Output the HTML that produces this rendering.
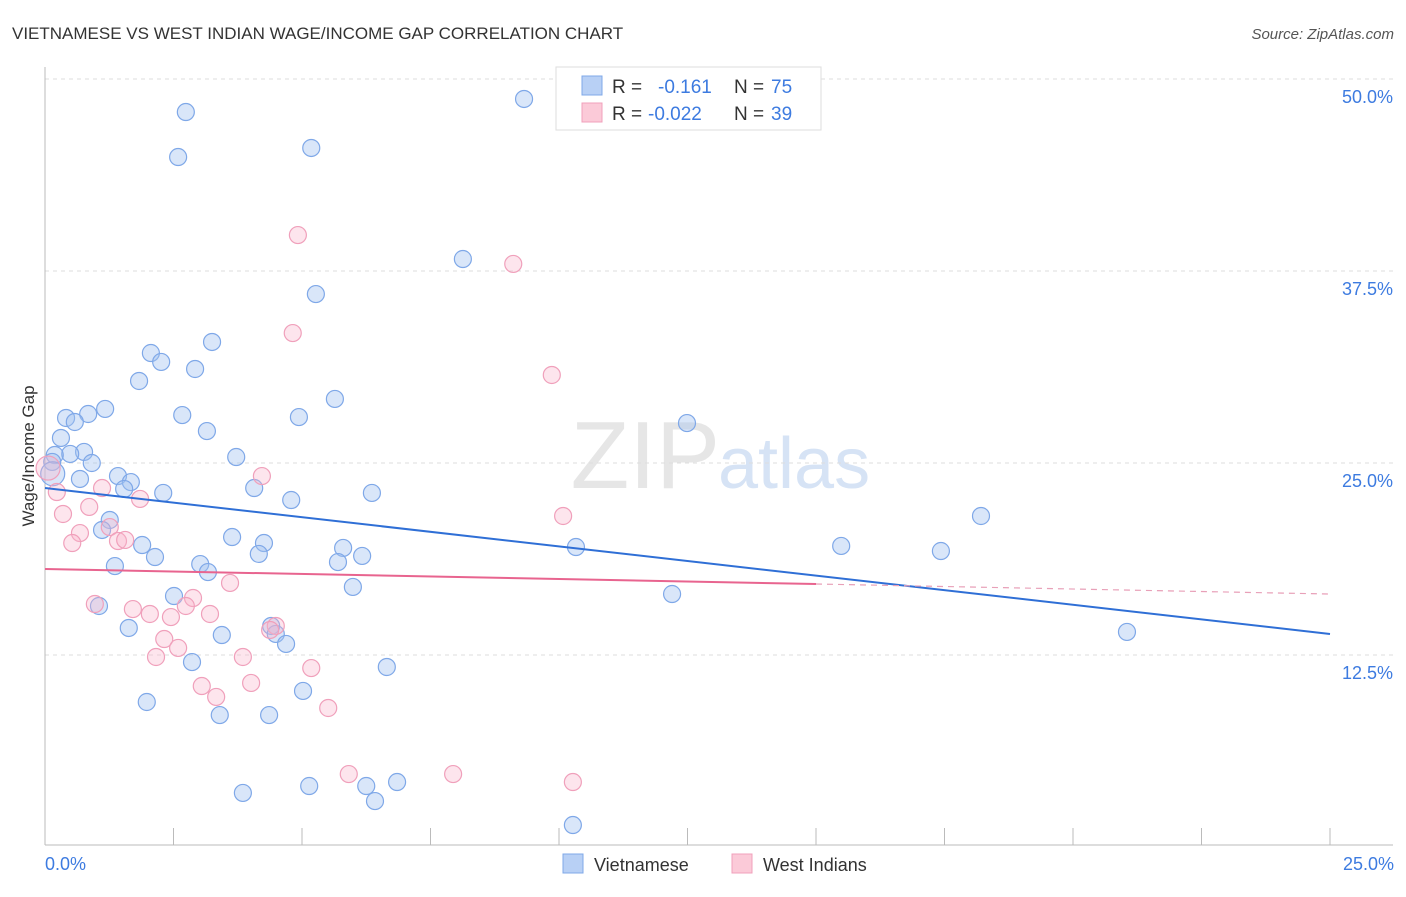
<!DOCTYPE html>
<html><head><meta charset="utf-8">
<style>
body{margin:0;background:#fff;font-family:"Liberation Sans",sans-serif;}
svg text{font-family:"Liberation Sans",sans-serif;}
</style></head>
<body>
<svg id="chart" width="1406" height="892" xmlns="http://www.w3.org/2000/svg">
<text x="12" y="39" font-size="17" fill="#333">VIETNAMESE VS WEST INDIAN WAGE/INCOME GAP CORRELATION CHART</text>
<text x="1394" y="39" font-size="15" fill="#555" font-style="italic" text-anchor="end">Source: ZipAtlas.com</text>
<text x="720" y="488" font-size="96" fill="#e6e6e6" text-anchor="end" font-family="Liberation Serif,serif">ZIP</text>
<text x="718" y="488" font-size="72" fill="#d6e3f5">atlas</text>
<g id="grid"></g>
<g id="axes"></g>
<g id="pts"></g>
<g id="trends"></g>
<text transform="translate(34,456) rotate(-90)" font-size="17" fill="#333" text-anchor="middle">Wage/Income Gap</text>
<text x="45" y="870" font-size="18" fill="#3d7be0">0.0%</text>
<text x="1394" y="870" font-size="18" fill="#3d7be0" text-anchor="end">25.0%</text>
<g>
<rect x="556" y="67" width="265" height="63" fill="#fff" stroke="#ddd"/>
<rect x="582" y="76" width="20" height="19" fill="#b8d0f5" stroke="#7fa8e8"/>
<rect x="582" y="103" width="20" height="19" fill="#fbcad8" stroke="#f0a0bb"/>
<text x="612" y="93" font-size="19" fill="#333">R =</text>
<text x="658" y="93" font-size="19" fill="#3d7be0">-0.161</text>
<text x="734" y="93" font-size="19" fill="#333">N =</text>
<text x="771" y="93" font-size="19" fill="#3d7be0">75</text>
<text x="612" y="120" font-size="19" fill="#333">R =</text>
<text x="648" y="120" font-size="19" fill="#3d7be0">-0.022</text>
<text x="734" y="120" font-size="19" fill="#333">N =</text>
<text x="771" y="120" font-size="19" fill="#3d7be0">39</text>
</g>
<g>
<rect x="563" y="854" width="20" height="19" fill="#b8d0f5" stroke="#7fa8e8"/>
<text x="594" y="871" font-size="18" fill="#333">Vietnamese</text>
<rect x="732" y="854" width="20" height="19" fill="#fbcad8" stroke="#f0a0bb"/>
<text x="763" y="871" font-size="18" fill="#333">West Indians</text>
</g>
</svg>
<script>
const yTicks=[50,37.5,25,12.5];
const yTickLabels=["50.0%","37.5%","25.0%","12.5%"];
const xTicks=[0,2.5,5,7.5,10,12.5,15,17.5,20,22.5,25];
const viX=[2.74,2.59,5.18,9.32,8.13,5.27,3.25,2.06,2.26,2.92,1.83,5.64,1.17,0.84,0.41,0.58,2.67,4.94,12.49,3.15,0.31,0.76,0.49,0.19,0.91,0.14,3.72,0.68,1.42,1.67,1.54,4.07,2.30,6.36,4.79,18.21,1.26,1.11,3.64,4.26,1.89,4.16,10.33,5.80,6.17,15.49,17.43,2.14,5.70,3.02,1.36,3.17,5.99,2.51,12.20,1.05,4.40,1.63,4.49,3.44,4.69,21.05,2.86,6.65,5.02,1.98,3.40,4.36,3.85,5.14,6.25,6.85,6.42,10.27,0.15];
const viY=[47.85,44.92,45.51,48.70,38.28,36.0,32.88,32.16,31.58,31.12,30.34,29.17,28.52,28.19,27.93,27.67,28.12,27.99,27.60,27.08,26.63,25.72,25.59,25.52,25.0,25.07,25.39,23.96,24.15,23.76,23.31,23.37,23.05,23.05,22.59,21.55,21.29,20.64,20.18,19.79,19.66,19.08,19.53,19.47,18.95,19.60,19.27,18.88,18.55,18.42,18.29,17.90,16.93,16.34,16.47,15.69,14.39,14.26,13.87,13.80,13.22,14.00,12.04,11.72,10.16,9.44,8.59,8.59,3.52,3.97,3.97,4.23,2.99,1.43,24.3];
const wiX=[4.92,9.11,4.82,9.86,4.22,0.23,1.11,1.85,0.86,0.35,10.08,1.26,0.68,0.53,1.42,1.56,3.60,2.88,0.97,1.71,2.74,2.04,3.21,2.45,2.32,2.59,2.16,3.85,5.18,4.49,4.38,3.05,4.01,3.33,5.51,5.91,7.94,10.27,0.06];
const wiY=[39.84,37.96,33.46,30.73,24.15,23.11,23.37,22.66,22.14,21.68,21.55,20.83,20.44,19.79,19.92,19.99,17.19,16.21,15.82,15.49,15.69,15.17,15.17,14.97,13.54,12.96,12.37,12.37,11.65,14.39,14.13,10.48,10.68,9.77,9.05,4.75,4.75,4.23,24.67];
const viTrend=[23.37,13.87];
const wiTrend=[18.1,16.47];
const wiSolidEnd=15;
const X=v=>45+v*51.4, Y=v=>79+(50-v)*15.36;
const NS="http://www.w3.org/2000/svg";
function mk(t,a,p){const e=document.createElementNS(NS,t);for(const k in a)e.setAttribute(k,a[k]);p.appendChild(e);return e;}
const grid=document.getElementById('grid'),axes=document.getElementById('axes'),pts=document.getElementById('pts'),tr=document.getElementById('trends');
yTicks.forEach((t,i)=>{
 const l=mk('line',{x1:45,x2:1393,y1:Y(t),y2:Y(t),stroke:'#ddd','stroke-dasharray':'4,4'},grid);
 
 
 const tx=mk('text',{x:1393,y:Y(t)+24,'font-size':18,fill:'#3d7be0','text-anchor':'end'},grid);
 tx.textContent=yTickLabels[i];
 
 
});
const ya=mk('line',{x1:45,x2:45,y1:67,y2:845,stroke:'#bbb'},axes);


const xa=mk('line',{x1:45,x2:1393,y1:845,y2:845,stroke:'#bbb'},axes);


xTicks.forEach(t=>{
 const l=mk('line',{x1:X(t),x2:X(t),y1:828,y2:845,stroke:'#bbb'},axes);
 
 
});
viX.forEach((x,i)=>{
 const c=mk('circle',{cx:X(x),cy:Y(viY[i]),r:i==viX.length-1?12:8.5,fill:'rgba(160,192,240,0.4)',stroke:'#7fa8e8','stroke-width':1.2},pts);
 
 
});
wiX.forEach((x,i)=>{
 const c=mk('circle',{cx:X(x),cy:Y(wiY[i]),r:i==wiX.length-1?12:8.5,fill:'rgba(248,180,202,0.35)',stroke:'#f0a0bb','stroke-width':1.2},pts);
 
 
});
const vl=mk('line',{x1:X(0),y1:Y(viTrend[0]),x2:X(25),y2:Y(viTrend[1]),stroke:'#2f6fd6','stroke-width':2},tr);


const wm=wiTrend[0]+(wiTrend[1]-wiTrend[0])*wiSolidEnd/25;
const wl=mk('line',{x1:X(0),y1:Y(wiTrend[0]),x2:X(wiSolidEnd),y2:Y(wm),stroke:'#e8648f','stroke-width':2},tr);


const wd=mk('line',{x1:X(wiSolidEnd),y1:Y(wm),x2:X(25),y2:Y(wiTrend[1]),stroke:'#e8a0b8','stroke-width':1.2,'stroke-dasharray':'6,5'},tr);


</script>
</body></html>
